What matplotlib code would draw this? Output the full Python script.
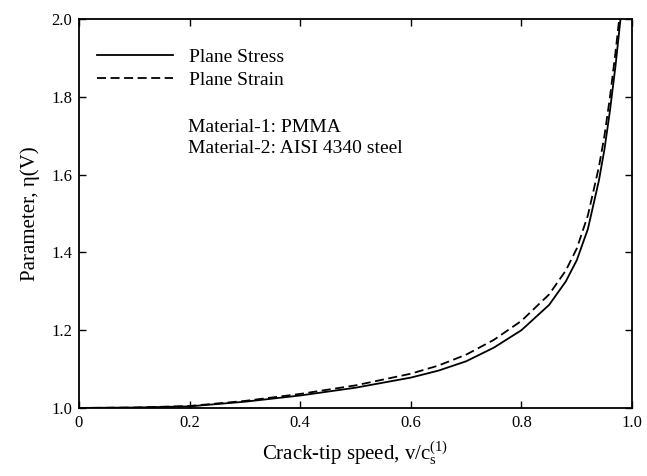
import numpy as np
import matplotlib
matplotlib.use("Agg")
import matplotlib.pyplot as plt

plt.rcParams['font.family'] = ['Liberation Serif', 'DejaVu Serif']
plt.rcParams['mathtext.fontset'] = 'custom'
plt.rcParams['mathtext.rm'] = 'Liberation Serif'
plt.rcParams['mathtext.it'] = 'Liberation Serif:italic'

# crack-tip speed v/c_s and eta(V) for the two cases
speed = [0.0, 0.1, 0.2, 0.3, 0.4, 0.5, 0.6, 0.65, 0.7, 0.75, 0.8, 0.85,
         0.88, 0.9, 0.92, 0.94, 0.95, 0.96, 0.97, 0.979]
eta_stress = [1.0, 1.001, 1.004, 1.016, 1.032, 1.052, 1.078, 1.096, 1.12,
              1.155, 1.20, 1.265, 1.325, 1.38, 1.46, 1.585, 1.665, 1.765,
              1.88, 2.0]
eta_strain = [1.0, 1.001, 1.005, 1.018, 1.036, 1.058, 1.088, 1.109, 1.137,
              1.175, 1.224, 1.292, 1.353, 1.41, 1.495, 1.62, 1.70, 1.80,
              1.915, 2.03]

xticks = [0, 0.2, 0.4, 0.6, 0.8, 1.0]
xticklabels = ['0', '0.2', '0.4', '0.6', '0.8', '1.0']
yticks = [1.0, 1.2, 1.4, 1.6, 1.8, 2.0]

fig = plt.figure(figsize=(6.47, 4.76), dpi=100)
ax = fig.add_axes([0.122, 0.143, 0.855, 0.817])

ax.plot(speed, eta_stress, 'k-', lw=1.3, label='Plane Stress')
ax.plot(speed, eta_strain, 'k--', lw=1.3, dashes=(5, 2.5), label='Plane Strain')

ax.set_xlim(0, 1.0)
ax.set_ylim(1.0, 2.0)
ax.set_xticks(xticks)
ax.set_xticklabels(xticklabels)
ax.set_yticks(yticks)
ax.set_yticklabels(['%.1f' % t for t in yticks])
ax.tick_params(direction='in', top=True, right=True, length=5, width=1,
               labelsize=12, pad=5)
for s in ax.spines.values():
    s.set_linewidth(1.3)

ax.set_xlabel(r'Crack-tip speed, v/c$_\mathregular{s}^\mathregular{(1)}$',
              fontsize=15, labelpad=6)
ax.set_ylabel('Parameter, η(V)', fontsize=15, labelpad=8)

ax.legend(loc='upper left', bbox_to_anchor=(0.033, 0.925), frameon=False,
          fontsize=14, handlelength=3.9, handletextpad=0.8,
          labelspacing=0.3, borderaxespad=0.0, borderpad=0.0)

ax.text(0.197, 0.722, 'Material-1: PMMA', transform=ax.transAxes,
        fontsize=14, va='center')
ax.text(0.197, 0.668, 'Material-2: AISI 4340 steel', transform=ax.transAxes,
        fontsize=14, va='center')

fig.savefig('out.png', dpi=100)
